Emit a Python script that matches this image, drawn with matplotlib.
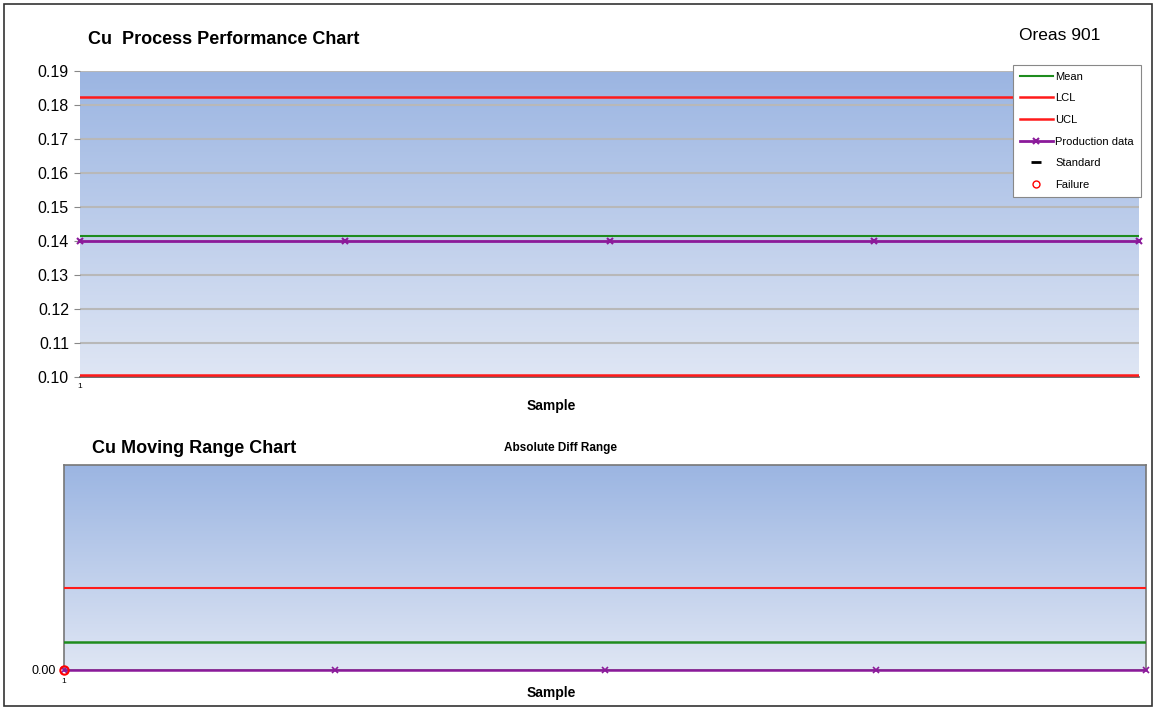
import numpy as np
import matplotlib
matplotlib.use('Agg')
import matplotlib.pyplot as plt
from matplotlib.lines import Line2D
from matplotlib.patches import Rectangle
from matplotlib.colors import LinearSegmentedColormap

plt.rcParams['font.family'] = ['Liberation Sans', 'DejaVu Sans']

# 데이터
samples = [1, 2, 3, 4, 5]
cu_values = [0.14, 0.14, 0.14, 0.14, 0.14]
cu_mean = 0.1415
cu_ucl = 0.1824
cu_lcl = 0.1006

mr_values = [0.0, 0.0, 0.0, 0.0, 0.0]
mr_mean = 0.0102
mr_ucl = 0.030
mr_fail_x = [1]
mr_fail_y = [0.0]

purple = '#8B1A9A'
grad = LinearSegmentedColormap.from_list('g', ['#dfe6f4', '#9bb5e2'])

fig = plt.figure(figsize=(11.54, 7.08), dpi=100)
fig.patches.append(Rectangle((4 / 1154, 2 / 708), 1148 / 1154, 702 / 708,
                             transform=fig.transFigure, fill=False,
                             edgecolor='#333333', linewidth=1.2))

# 위 차트
ax1 = fig.add_axes([80 / 1154, 1 - 377 / 708, 1059 / 1154, 306 / 708])
ax1.set_xlim(1, 5)
ax1.set_ylim(0.10, 0.19)
ax1.imshow(np.linspace(0, 1, 256).reshape(-1, 1), cmap=grad, origin='lower',
           aspect='auto', extent=[1, 5, 0.10, 0.19], zorder=0)
ax1.set_yticks(np.arange(0.10, 0.191, 0.01))
ax1.set_yticklabels(['%.2f' % v for v in np.arange(0.10, 0.191, 0.01)], fontsize=11.5)
for v in np.arange(0.11, 0.191, 0.01):
    ax1.axhline(v, color='#b8b8b8', lw=1.5, zorder=1)
ax1.axhline(cu_ucl, color='#ff1a1a', lw=1.8, zorder=3)
ax1.axhline(cu_lcl, color='#ff1a1a', lw=1.8, zorder=3)
ax1.axhline(cu_mean, color='#1e8c1e', lw=1.5, zorder=3)
ax1.plot(samples, cu_values, color=purple, lw=2, marker='x', ms=4, mew=1.5,
         zorder=4, clip_on=False)
ax1.set_xticks([1])
ax1.set_xticklabels(['1'], fontsize=6)
ax1.tick_params(axis='x', length=0, pad=4)
ax1.tick_params(axis='y', length=4, color='#888888', pad=4)
for s in ['top', 'right', 'left']:
    ax1.spines[s].set_visible(False)
ax1.spines['bottom'].set_color('#555555')
ax1.spines['bottom'].set_linewidth(1.2)
fig.text(551 / 1154, 1 - 406 / 708, 'Sample', fontsize=10, fontweight='bold',
         ha='center', va='center')
fig.text(88 / 1154, 1 - 40 / 708, 'Cu  Process Performance Chart', fontsize=13,
         fontweight='bold', va='center')
fig.text(1060 / 1154, 1 - 36 / 708, 'Oreas 901', fontsize=12.5, va='center', ha='center')

handles = [
    Line2D([], [], color='#1e8c1e', lw=1.5),
    Line2D([], [], color='#ff1a1a', lw=1.8),
    Line2D([], [], color='#ff1a1a', lw=1.8),
    Line2D([], [], color=purple, lw=2, marker='x', ms=4, mew=1.5),
    Line2D([], [], color='black', ls='none', marker='_', ms=7, mew=2),
    Line2D([], [], color='red', ls='none', marker='o', ms=5, mfc='none'),
]
labels = ['Mean', 'LCL', 'UCL', 'Production data', 'Standard', 'Failure']
leg = fig.legend(handles, labels, loc='upper left',
                 bbox_to_anchor=(1013 / 1154, 1 - 65 / 708), fontsize=8,
                 frameon=True, fancybox=False, edgecolor='#888888',
                 framealpha=1, handlelength=3.0, handletextpad=0.2,
                 labelspacing=1.05, borderpad=0.6, borderaxespad=0)
leg.get_frame().set_linewidth(0.8)

# 아래 차트
ax2 = fig.add_axes([64 / 1154, 1 - 670 / 708, 1082 / 1154, 205 / 708])
ax2.set_xlim(1, 5)
ax2.set_ylim(0, 0.075)
ax2.imshow(np.linspace(0, 1, 256).reshape(-1, 1), cmap=grad, origin='lower',
           aspect='auto', extent=[1, 5, 0, 0.075], zorder=0)
ax2.axhline(mr_ucl, color='#ff1a1a', lw=1.5, zorder=3)
ax2.axhline(mr_mean, color='#1e8c1e', lw=1.8, zorder=3)
ax2.plot(samples, mr_values, color=purple, lw=1.8, marker='x', ms=4, mew=1.2,
         zorder=4, clip_on=False)
ax2.plot(mr_fail_x, mr_fail_y, ls='none', marker='o', ms=6, mfc='none',
         mec='red', mew=1.5, zorder=5, clip_on=False)
ax2.set_xticks([1])
ax2.set_xticklabels(['1'], fontsize=6)
ax2.set_yticks([0.0])
ax2.set_yticklabels(['0.00'], fontsize=9)
ax2.tick_params(axis='both', length=0, pad=6)
for s in ax2.spines.values():
    s.set_color('#777777')
    s.set_linewidth(1.2)
fig.text(551 / 1154, 1 - 693 / 708, 'Sample', fontsize=10, fontweight='bold',
         ha='center', va='center')
fig.text(92 / 1154, 1 - 448 / 708, 'Cu Moving Range Chart', fontsize=13,
         fontweight='bold', va='center')
fig.text(560 / 1154, 1 - 448 / 708, 'Absolute Diff Range', fontsize=8.5,
         fontweight='bold', va='center', ha='center')

fig.savefig('out.png', dpi=100)
